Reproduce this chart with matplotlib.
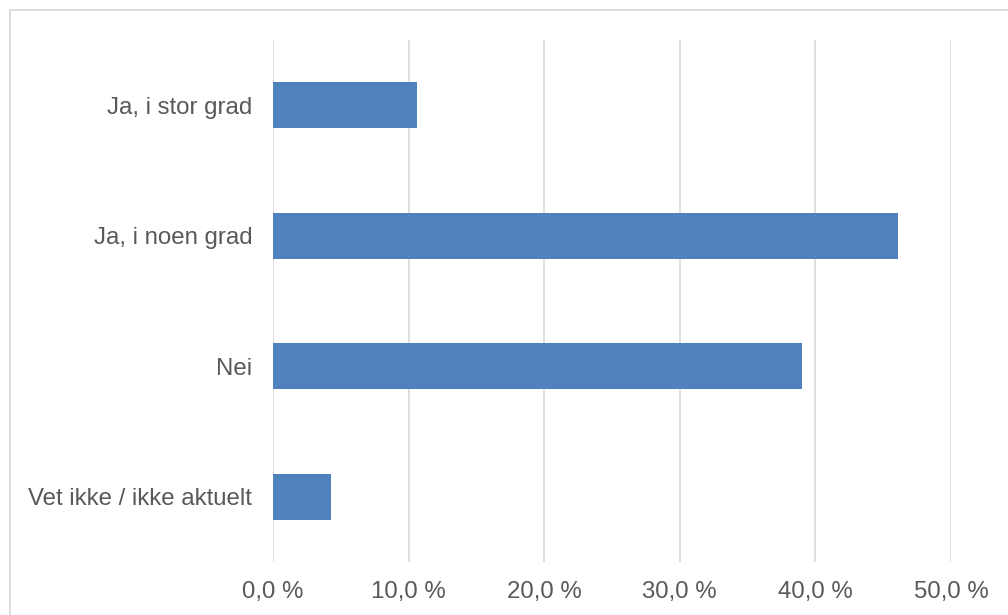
import matplotlib.pyplot as plt
import matplotlib.patches as patches
from matplotlib.ticker import FuncFormatter

categories = ["Ja, i stor grad", "Ja, i noen grad", "Nei", "Vet ikke / ikke aktuelt"]
values = [10.6, 46.1, 39.0, 4.3]
xticks = [0, 10, 20, 30, 40, 50]

plt.rcParams['font.family'] = ['Liberation Sans', 'DejaVu Sans']

fig = plt.figure(figsize=(10.08, 6.15), dpi=100)
ax = fig.add_axes([273/1008, 1 - 562/615, (951 - 273)/1008, (562 - 40)/615])

# outer chart border
fig.patches.append(patches.Rectangle((10/1008, -0.05), 1.05, 1 - 10/615 + 0.05,
                                     transform=fig.transFigure, fill=False,
                                     edgecolor='#D9D9D9', linewidth=1.3))

y = range(len(categories))
ax.barh(y, values, height=0.35, color='#4F81BD', zorder=3)
ax.set_ylim(len(categories) - 0.5, -0.5)
ax.set_xlim(0, 50)
ax.set_yticks(list(y))
ax.set_yticklabels(categories)
ax.set_xticks(xticks)
ax.xaxis.set_major_formatter(FuncFormatter(lambda v, p: f"{v:.1f} %".replace('.', ',')))

ax.grid(axis='x', color='#D9D9D9', linewidth=1.2, zorder=0)
for s in ax.spines.values():
    s.set_visible(False)
ax.tick_params(axis='both', length=0, labelsize=17.3, labelcolor='#595959')
ax.tick_params(axis='y', pad=15)
ax.tick_params(axis='x', pad=13.5)

fig.savefig("out.png", dpi=100)
